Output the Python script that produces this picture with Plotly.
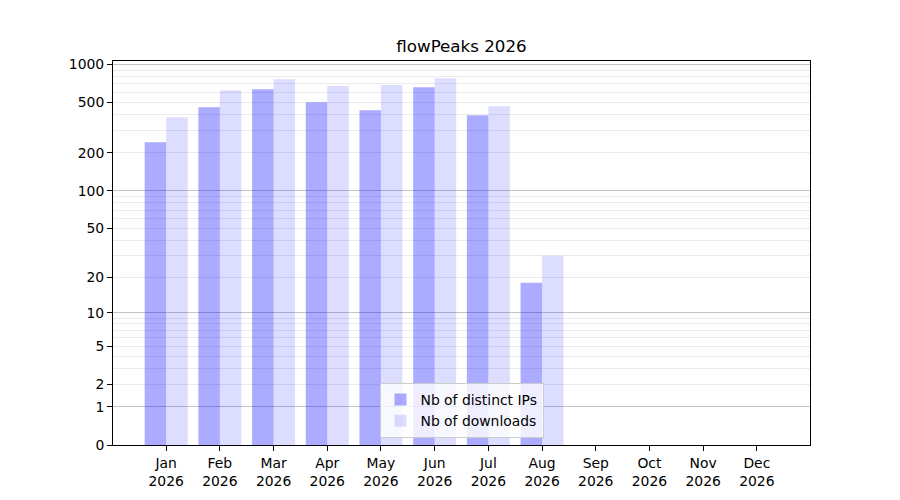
import numpy as np
import plotly.graph_objects as go

months = ["Jan", "Feb", "Mar", "Apr", "May", "Jun", "Jul", "Aug", "Sep", "Oct", "Nov", "Dec"]
year = "2026"
distinct_ips = [242, 457, 635, 501, 433, 658, 396, 18]
downloads = [382, 623, 761, 674, 686, 775, 466, 30]
y_tick_values = [0, 1, 2, 5, 10, 20, 50, 100, 200, 500, 1000]
y_major_grid = [1, 10, 100, 1000]
y_minor_grid = [m * d for d in (1, 10, 100) for m in range(2, 10)]


def tr(v):
    return np.log10(1 + np.asarray(v, dtype=float))


x_pos = list(range(len(distinct_ips)))
font = "DejaVu Sans"

fig = go.Figure()
fig.add_trace(go.Bar(
    x=x_pos, y=tr(distinct_ips), offset=-0.4, width=0.4,
    marker=dict(color="rgba(0,0,255,0.33)", line=dict(width=0)),
    name="Nb of distinct IPs", customdata=distinct_ips,
    hovertemplate="%{customdata}<extra></extra>",
))
fig.add_trace(go.Bar(
    x=x_pos, y=tr(downloads), offset=0.0, width=0.4,
    marker=dict(color="rgba(0,0,255,0.133)", line=dict(width=0)),
    name="Nb of downloads", customdata=downloads,
    hovertemplate="%{customdata}<extra></extra>",
))
# invisible trace to bind the overlay axis for major gridlines
fig.add_trace(go.Scatter(x=[0], y=[0], yaxis="y2", mode="markers",
                         marker=dict(opacity=0), showlegend=False, hoverinfo="skip"))

yrange = [0, 3.026]
fig.update_layout(
    width=900, height=500,
    margin=dict(l=105, r=98, t=53, b=63),
    paper_bgcolor="white", plot_bgcolor="white",
    barmode="overlay",
    font=dict(family=font, size=13.9, color="black"),
    title=dict(text="flowPeaks 2026", x=0.5, xref="paper", xanchor="center",
               y=1 - 38 / 500, yref="container", yanchor="middle",
               font=dict(size=16.7, family=font, color="black")),
    xaxis=dict(
        range=[-0.99, 11.99], tickvals=list(range(12)),
        ticktext=[f"{m}<br>{year}" for m in months],
        showgrid=False, zeroline=False, showline=True, linecolor="black",
        linewidth=1, mirror=True, ticks="outside", ticklen=5, tickcolor="black",
    ),
    yaxis=dict(
        range=yrange, tickvals=tr(y_tick_values), ticktext=[str(v) for v in y_tick_values],
        showgrid=False, zeroline=False, showline=True, linecolor="black",
        linewidth=1, mirror=True, ticks="outside", ticklen=5, tickcolor="black",
        minor=dict(tickvals=tr(y_minor_grid), showgrid=True, gridcolor="#ebebeb",
                   gridwidth=1, ticks=""),
    ),
    yaxis2=dict(
        range=yrange, overlaying="y", tickvals=tr(y_major_grid), showticklabels=False,
        showgrid=True, gridcolor="#c4c4c4", gridwidth=1, zeroline=False, ticks="",
        showline=False,
    ),
    legend=dict(
        x=0.5, y=0.018, xanchor="center", yanchor="bottom",
        bgcolor="rgba(255,255,255,0.8)", bordercolor="#cccccc", borderwidth=1,
        font=dict(size=13.9, family=font), itemwidth=30,
    ),
    showlegend=True,
)

fig.write_html("out.html")
